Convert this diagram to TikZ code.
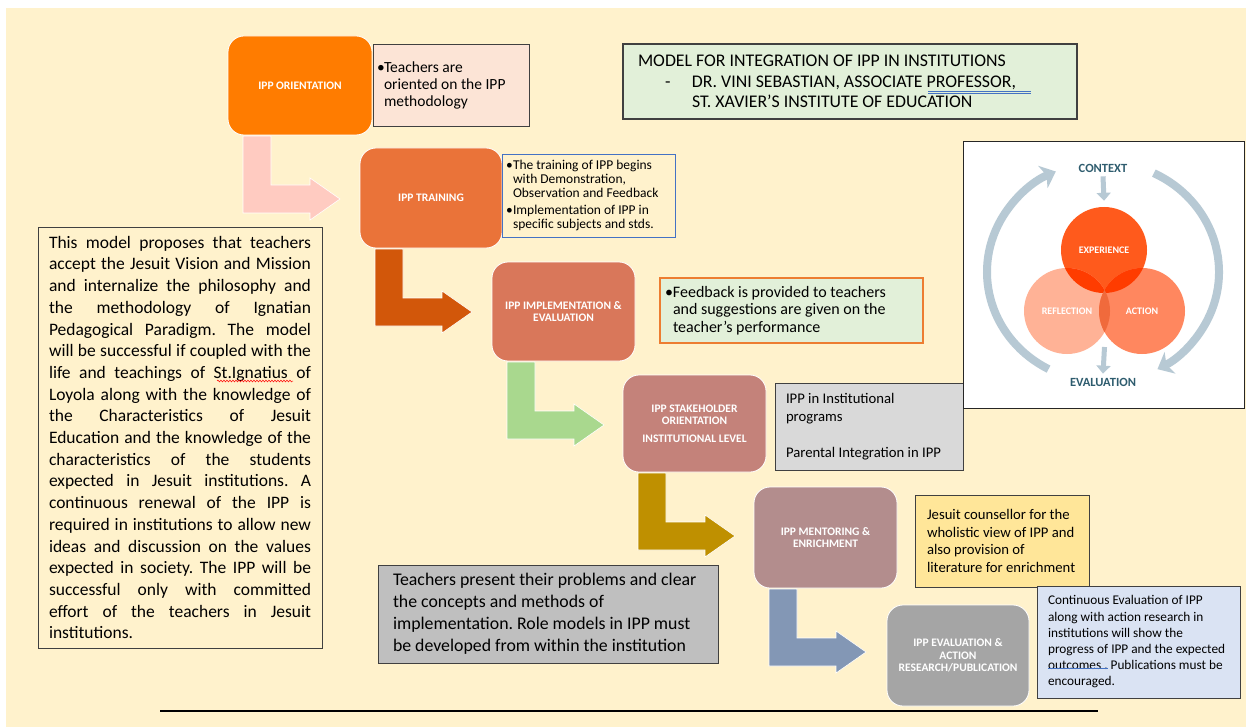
\documentclass[tikz,border=0pt]{standalone}
\usepackage{fontspec}
\setmainfont{Carlito}
\usetikzlibrary{calc,arrows.meta,shadows,decorations.pathmorphing}
\definecolor{bg}{HTML}{FFF2CC}
\definecolor{cs1}{HTML}{FF7C00}
\definecolor{cs2}{HTML}{EA7339}
\definecolor{cs3}{HTML}{D9775A}
\definecolor{cs4}{HTML}{C4827A}
\definecolor{cs5}{HTML}{B38D8D}
\definecolor{cs6}{HTML}{A5A5A5}
\definecolor{ca1}{HTML}{FFCBC1}
\definecolor{ca2}{HTML}{D2570A}
\definecolor{ca3}{HTML}{A9D88E}
\definecolor{ca4}{HTML}{BF9000}
\definecolor{ca5}{HTML}{8397B5}
\definecolor{peach}{HTML}{FCE4D6}
\definecolor{lgreen}{HTML}{E2F0D9}
\definecolor{lgray}{HTML}{D9D9D9}
\definecolor{gold}{HTML}{FFE699}
\definecolor{lblue}{HTML}{DAE3F3}
\definecolor{mgray}{HTML}{BFBFBF}
\definecolor{bord}{HTML}{404040}
\definecolor{bblue}{HTML}{4472C4}
\definecolor{borange}{HTML}{ED7D31}
\definecolor{expc}{HTML}{FF5A1C}
\definecolor{reflc}{HTML}{FFB296}
\definecolor{actc}{HTML}{FF875F}
\definecolor{ovone}{HTML}{FF3C00}
\definecolor{ovtwo}{HTML}{F06A3C}
\definecolor{arcc}{HTML}{B7C9D4}
\definecolor{ctxc}{HTML}{2E5C6E}
\newcommand\bentarrow[2]{%
  \fill[#2, draw=white, line width=0.6pt]
    ($(#1.south west)+(15,1)$) -- ($(#1.south west)+(43,1)$) --
    ($(#1.south west)+(43,50)$) -- ($(#1.south west)+(82,50)$) --
    ($(#1.south west)+(82,43)$) -- ($(#1.south west)+(112,64)$) --
    ($(#1.south west)+(82,85)$) -- ($(#1.south west)+(82,78)$) --
    ($(#1.south west)+(15,78)$) -- cycle;}
\newcommand\bul{\makebox[7pt][l]{•}}
\newcommand\ind{\hspace*{7pt}}
\newcommand\jl[1]{\makebox[262pt][s]{#1}}
\newcommand\ns{\spaceskip=0pt\xspaceskip=0pt\frenchspacing\hyphenpenalty=10000\exhyphenpenalty=10000\relax}
\begin{document}
\begin{tikzpicture}[x=1pt,y=-1pt,
  stepbox/.style={rectangle, rounded corners=16pt, draw=white, line width=0.8pt,
    text=white, font=\fontsize{11.5}{12.5}\selectfont\bfseries, align=center,
    inner sep=2pt, outer sep=0pt},
  tbox/.style={rectangle, outer sep=0pt, align=left, anchor=north west,
    draw=bord, line width=0.9pt, inner ysep=2pt},
  shad/.style={drop shadow={shadow xshift=1.3pt, shadow yshift=-1.3pt, opacity=0.7, fill=black}},
  clabel/.style={text=white, font=\fontsize{10}{10}\selectfont\bfseries, inner sep=1pt}]
\useasboundingbox (0,0) rectangle (1246,727);
\fill[white] (0,0) rectangle (1246,727);
\fill[bg] (6,8) rectangle (1246,727);

% step boxes
\node[stepbox, fill=cs1, minimum width=144pt, minimum height=99pt] (s1) at (300,85.5) {IPP ORIENTATION};
\node[stepbox, fill=cs2, minimum width=142pt, minimum height=100pt] (s2) at (431,198) {IPP TRAINING};
\node[stepbox, fill=cs3, minimum width=143pt, minimum height=99pt] (s3) at (563.5,311.5) {IPP IMPLEMENTATION \&\\EVALUATION};
\node[stepbox, fill=cs4, minimum width=143pt, minimum height=97pt] (s4) at (694.5,423.5) {IPP STAKEHOLDER\\ORIENTATION\\[5pt]INSTITUTIONAL LEVEL};
\node[stepbox, fill=cs5, minimum width=143pt, minimum height=101pt] (s5) at (825.5,537.5) {IPP MENTORING \&\\ENRICHMENT};
\node[stepbox, fill=cs6, minimum width=142pt, minimum height=101pt] (s6) at (958,655.5) {IPP EVALUATION \&\\ACTION\\RESEARCH/PUBLICATION};

% bent arrows
\bentarrow{s1}{ca1}
\bentarrow{s2}{ca2}
\bentarrow{s3}{ca3}
\bentarrow{s4}{ca4}
\bentarrow{s5}{ca5}

% text boxes
\node[tbox, fill=peach, minimum width=156pt, minimum height=82pt, text width=148pt, inner xsep=4pt,
  font=\fontsize{15.5}{17}\selectfont] (t1) at (373,44)
  {\ns\bul Teachers are\\\ind oriented on the IPP\\\ind methodology};
\node[tbox, fill=bg, draw=bblue, minimum width=173pt, minimum height=83pt, text width=165pt, inner xsep=4pt,
  font=\fontsize{13.5}{14}\selectfont] (t2) at (502,154)
  {\ns\bul The training of IPP begins\\\ind with Demonstration,\\\ind Observation and Feedback\\[3pt]\bul Implementation of IPP in\\\ind specific subjects and stds.};
\node[tbox, fill=lgreen, draw=borange, line width=1.1pt, minimum width=263pt, minimum height=65pt, text width=253pt, inner xsep=5pt,
  font=\fontsize{16}{17.5}\selectfont] (t3) at (660,278)
  {\ns\makebox[8pt][l]{•}Feedback is provided to teachers\\\hspace*{8pt}and suggestions are given on the\\\hspace*{8pt}teacher's performance};
\node[tbox, shad, fill=lgray, minimum width=188pt, minimum height=87pt, text width=166pt, inner xsep=11pt,
  font=\fontsize{14.7}{18}\selectfont] (t4) at (775,383)
  {\ns IPP in Institutional\\programs\\[18pt]Parental Integration in IPP};
\node[tbox, fill=gold, minimum width=174pt, minimum height=92pt, text width=150pt, inner xsep=12pt,
  font=\fontsize{14.7}{17.7}\selectfont] (t5) at (915,495)
  {\ns Jesuit counsellor for the\\wholistic view of IPP and\\also provision of\\literature for enrichment};
\node[tbox, fill=lblue, minimum width=203pt, minimum height=112pt, text width=181pt, inner xsep=11pt,
  font=\fontsize{13.3}{16.2}\selectfont] (t6) at (1037,586)
  {\ns Continuous Evaluation of IPP\\along with action research in\\institutions will show the\\progress of IPP and the expected\\outcomes . Publications must be\\encouraged.};

% title
\node[tbox, fill=lgreen, line width=1.1pt, minimum width=454pt, minimum height=75pt, text width=424pt, inner xsep=15pt,
  font=\fontsize{17.8}{20.7}\selectfont] (title) at (623,44)
  {\ns MODEL FOR INTEGRATION OF IPP IN INSTITUTIONS\\\hspace*{27pt}\makebox[27pt][l]{-}DR. VINI SEBASTIAN, ASSOCIATE PROFESSOR,\\\hspace*{54pt}ST. XAVIER’S INSTITUTE OF EDUCATION};

% left description
\node[tbox, shad, fill=bg, minimum width=284pt, minimum height=421pt, text width=262pt, inner xsep=11pt,
  font=\fontsize{17.5}{21.7}\selectfont] (desc) at (38,227)
  {\ns\jl{This model proposes that teachers}\\
   \jl{accept the Jesuit Vision and Mission}\\
   \jl{and internalize the philosophy and}\\
   \jl{the methodology of Ignatian}\\
   \jl{Pedagogical Paradigm. The model}\\
   \jl{will be successful if coupled with the}\\
   \jl{life and teachings of St.Ignatius of}\\
   \jl{Loyola along with the knowledge of}\\
   \jl{the Characteristics of Jesuit}\\
   \jl{Education and the knowledge of the}\\
   \jl{characteristics of the students}\\
   \jl{expected in Jesuit institutions. A}\\
   \jl{continuous renewal of the IPP is}\\
   \jl{required in institutions to allow new}\\
   \jl{ideas and discussion on the values}\\
   \jl{expected in society. The IPP will be}\\
   \jl{successful only with committed}\\
   \jl{effort of the teachers in Jesuit}\\
   institutions.};

% gray box
\node[tbox, shad, fill=mgray, minimum width=340pt, minimum height=98pt, text width=310pt, inner xsep=15pt,
  font=\fontsize{17.8}{22}\selectfont] (gbox) at (378,565)
  {\ns Teachers present their problems and clear\\the concepts and methods of\\implementation. Role models in IPP must\\be developed from within the institution};

% proofing marks
\draw[red, line width=0.5pt, decorate, decoration={snake, amplitude=0.9pt, segment length=3pt}] (217,381) -- (293,381);
\draw[bblue, line width=0.6pt] (928,91) -- (1031,91) (928,93.5) -- (1031,93.5);
\draw[bblue, line width=1pt] (1048,668.5) -- (1108,668.5);

% picture box
\node[draw=black!85, fill=white, line width=0.9pt, minimum width=281pt, minimum height=267pt,
  anchor=north west, outer sep=0pt] (pic) at (963,141) {};
\node[circle, fill=expc, minimum size=86pt, inner sep=0pt] (exp) at (1104,250) {};
\node[circle, fill=reflc, minimum size=86pt, inner sep=0pt] (refl) at (1067,311) {};
\node[circle, fill=actc, minimum size=86pt, inner sep=0pt] (act) at (1142,311) {};
\begin{scope}
  \clip (exp.center) circle (43);
  \fill[ovone] (refl.center) circle (43);
  \fill[ovone] (act.center) circle (43);
\end{scope}
\begin{scope}
  \clip (refl.center) circle (43);
  \clip (act.center) circle (43);
  \fill[ovtwo] (1000,290) rectangle (1200,360);
\end{scope}
\node[clabel] (lexp) at (exp.center) {EXPERIENCE};
\node[clabel] (lrefl) at (refl.center) {REFLECTION};
\node[clabel] (lact) at (act.center) {ACTION};
\node[text=ctxc, font=\fontsize{12.5}{12.5}\selectfont\bfseries, inner sep=1pt] (ctx) at (1103,168) {CONTEXT};
\node[text=ctxc, font=\fontsize{12.5}{12.5}\selectfont\bfseries, inner sep=1pt] (ev) at (1103,382) {EVALUATION};
\coordinate (pc) at (1103,272);
\coordinate (rb) at ($(refl.center)!0.5!(act.center)+(0,36)$);
\draw[arcc, line width=5pt, -{Triangle[length=8pt,width=14pt]}] ($(ctx.south)+(0,3)$) -- ($(exp.north)+(0,-6)$);
\draw[arcc, line width=5pt, -{Triangle[length=8pt,width=14pt]}] (rb) -- ($(ev.north)+(0,-3)$);
\draw[arcc, line width=8pt, -{Stealth[length=14pt,width=24pt,inset=4pt]}]
  (pc) ++(118:116 and 110) arc[start angle=118, end angle=246, x radius=116, y radius=110];
\draw[arcc, line width=8pt, -{Stealth[length=14pt,width=24pt,inset=4pt]}]
  (pc) ++(-64:116 and 110) arc[start angle=-64, end angle=62, x radius=116, y radius=110];

% bottom rule
\draw[line width=2.5pt] (160,711) -- (1098,711);
\end{tikzpicture}
\end{document}
